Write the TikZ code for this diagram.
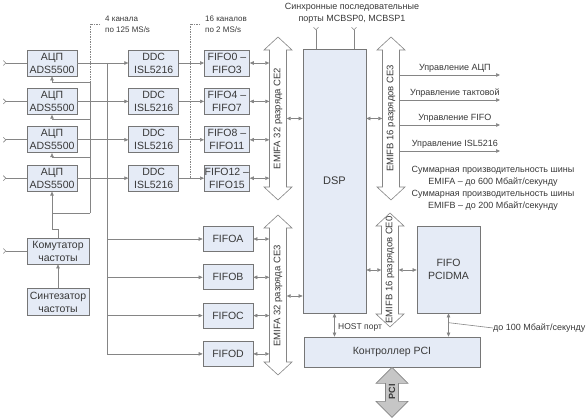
\documentclass[tikz,border=0pt]{standalone}
\usepackage{fontspec}
\setmainfont{Liberation Sans}
\usetikzlibrary{arrows.meta,positioning}

\definecolor{boxfill}{HTML}{E5EBF6}
\definecolor{boxline}{HTML}{767676}
\definecolor{wirecol}{HTML}{858585}
\definecolor{ink}{HTML}{383838}
\definecolor{pcifill}{HTML}{C6C6C6}

\tikzset{
  box/.style={draw=boxline, fill=boxfill, text=ink, align=center, inner sep=0pt,
    line width=0.7pt, font=\fontsize{10.5}{13}\selectfont},
  wire/.style={draw=wirecol, line width=0.6pt},
  arr/.style={wire, -{Triangle[length=4pt,width=3.5pt]}},
  darr/.style={wire, {Triangle[length=4pt,width=3.5pt]}-{Triangle[length=4pt,width=3.5pt]}},
  feed/.style={wire, {Straight Barb[reversed,length=2.5pt,width=5pt]}-},
  bracket/.style={draw=wirecol, line width=0.6pt, dash pattern=on 1.5pt off 1pt},
  bus/.style={draw=wirecol, fill=white, line width=0.6pt},
  pcibus/.style={draw=wirecol, fill=pcifill, line width=0.6pt},
  buslabel/.style={rotate=90, text=ink, inner sep=0pt, minimum height=17pt,
    font=\fontsize{9.5}{11}\selectfont},
  note/.style={text=ink, align=center, inner sep=0pt, font=\fontsize{9}{12}\selectfont},
  tag/.style={text=ink, align=left, inner sep=0pt, font=\fontsize{8}{11}\selectfont},
}

% bus outline: centre x, top tip y, bottom tip y
\newcommand{\busoutline}[3]{%
  \draw[bus] (#1,#2) -- ({#1+14},{#2+13}) -- ({#1+8.5},{#2+13}) -- ({#1+8.5},{#3-13})
    -- ({#1+14},{#3-13}) -- (#1,#3) -- ({#1-14},{#3-13}) -- ({#1-8.5},{#3-13})
    -- ({#1-8.5},{#2+13}) -- ({#1-14},{#2+13}) -- cycle;}

\begin{document}
\begin{tikzpicture}[x=1pt, y=-1pt]
  \useasboundingbox (0,0) rectangle (587,419);

  % converters
  \node[box, minimum width=50pt, minimum height=26pt] (adc1) at (52,63) {АЦП\\ADS5500};
  \node[box, minimum width=50pt, minimum height=26pt] (adc2) [below=11.7pt of adc1] {АЦП\\ADS5500};
  \node[box, minimum width=50pt, minimum height=26pt] (adc3) [below=11.7pt of adc2] {АЦП\\ADS5500};
  \node[box, minimum width=50pt, minimum height=26pt] (adc4) [below=11.7pt of adc3] {АЦП\\ADS5500};
  \node[box, minimum width=50pt, minimum height=26pt] (ddc1) [right=51pt of adc1] {DDC\\ISL5216};
  \node[box, minimum width=50pt, minimum height=26pt] (ddc2) [right=51pt of adc2] {DDC\\ISL5216};
  \node[box, minimum width=50pt, minimum height=26pt] (ddc3) [right=51pt of adc3] {DDC\\ISL5216};
  \node[box, minimum width=50pt, minimum height=26pt] (ddc4) [right=51pt of adc4] {DDC\\ISL5216};
  \node[box, minimum width=45pt, minimum height=26pt] (fifo0) [right=25pt of ddc1] {FIFO0 –\\FIFO3};
  \node[box, minimum width=45pt, minimum height=26pt] (fifo4) [right=25pt of ddc2] {FIFO4 –\\FIFO7};
  \node[box, minimum width=45pt, minimum height=26pt] (fifo8) [right=25pt of ddc3] {FIFO8 –\\FIFO11};
  \node[box, minimum width=45pt, minimum height=26pt] (fifo12) [right=25pt of ddc4] {FIFO12 –\\FIFO15};

  % clock
  \node[box, minimum width=62pt, minimum height=26pt] (kom) at (58,251) {Комутатор\\частоты};
  \node[box, minimum width=62pt, minimum height=27pt] (syn) [below=24pt of kom] {Синтезатор\\частоты};

  \node[box, minimum width=50pt, minimum height=25pt] (fifoA) at (228,239) {FIFOA};
  \node[box, minimum width=50pt, minimum height=25pt] (fifoB) [below=12.6pt of fifoA] {FIFOB};
  \node[box, minimum width=50pt, minimum height=25pt] (fifoC) [below=12.6pt of fifoB] {FIFOC};
  \node[box, minimum width=50pt, minimum height=25pt] (fifoD) [below=12.6pt of fifoC] {FIFOD};

  \node[box, minimum width=63pt, minimum height=264pt] (dsp) at (334.5,181) {\fontsize{11}{13}\selectfont DSP};
  \node[box, minimum width=63pt, minimum height=87pt] (pcidma) at (448.5,269.5) {FIFO\\PCIDMA};
  \node[box, minimum width=176pt, minimum height=30pt] (pcictl) at (392,352) {Контроллер PCI};

  % buses
  \busoutline{278}{37}{200}
  \busoutline{278}{215}{375}
  \busoutline{391}{37}{200}
  \busoutline{390}{213}{327}
  \node[buslabel] (emifa2) at (278,118.5) {EMIFA 32 разряда CE2};
  \node[buslabel] (emifa3) at (278,296) {EMIFA 32 разряда CE3};
  \node[buslabel] (emifb3) at (391,118.5) {EMIFB 16 разрядов CE3};
  \node[buslabel] (emifb0) at (390,270) {EMIFB 16 разрядов CE0};

  \draw[pcibus] (pcictl.south) -- ++(16,16) -- ++(-9.5,0) -- ++(0,18) -- ++(9.5,0)
    -- ++(-16,16) -- ++(-16,-16) -- ++(9.5,0) -- ++(0,-18) -- ++(-9.5,0) -- cycle;
  \node[rotate=90, text=ink, inner sep=0pt, font=\bfseries\fontsize{9}{10}\selectfont] (pci) at (392,392) {PCI};

  % inputs
  \coordinate (lft) at (3,0);
  \draw[feed] (adc1.west -| lft) -- (adc1.west);
  \draw[feed] (adc2.west -| lft) -- (adc2.west);
  \draw[feed] (adc3.west -| lft) -- (adc3.west);
  \draw[feed] (adc4.west -| lft) -- (adc4.west);
  \draw[feed] (kom.west -| lft) -- (kom.west);

  % clock distribution
  \coordinate (clk1) at (90,82);
  \coordinate (clk2) at (90,119);
  \coordinate (clk3) at (90,157);
  \coordinate (clkb) at (90,213);
  \draw[bracket] (100,24) -- (90,24) -- (clk1);
  \draw[wire, line width=0.9pt] (clk1) -- (clkb);
  \draw[arr] (clk1) -| (adc1.south);
  \draw[arr] (clk2) -| (adc2.south);
  \draw[arr] (clk3) -| (adc3.south);
  \draw[wire] (clkb) -- (clkb -| adc4.south);
  \draw[arr] (kom.north) -- ++(0,-8) -| (adc4.south);
  \draw[arr] (syn.north) -- (kom.south);

  % data paths
  \draw[arr] (adc1) -- (ddc1);
  \draw[arr] (adc2) -- (ddc2);
  \draw[arr] (adc3) -- (ddc3);
  \draw[arr] (adc4) -- (ddc4);
  \draw[bracket] (200,24) -- (190,24) -- (190,178);
  \draw[arr] (ddc1) -- (fifo0);
  \draw[arr] (ddc2) -- (fifo4);
  \draw[arr] (ddc3) -- (fifo8);
  \draw[arr] (ddc4) -- (fifo12);
  \node[tag, anchor=north west] (rate1) at (105,15.5) {4 канала\\по 125 MS/s};
  \node[tag, anchor=north west] (rate2) at (205,15.5) {16 каналов\\по 2 MS/s};

  \coordinate (tap) at (107,0);
  \draw[wire] (adc1.east -| tap) -- (fifoD.west -| tap);
  \draw[arr] (fifoA.west -| tap) -- (fifoA.west);
  \draw[arr] (fifoB.west -| tap) -- (fifoB.west);
  \draw[arr] (fifoC.west -| tap) -- (fifoC.west);
  \draw[arr] (fifoD.west -| tap) -- (fifoD.west);

  \draw[darr] (fifo0.east) -- (fifo0.east -| emifa2.north);
  \draw[darr] (fifo4.east) -- (fifo4.east -| emifa2.north);
  \draw[darr] (fifo8.east) -- (fifo8.east -| emifa2.north);
  \draw[darr] (fifo12.east) -- (fifo12.east -| emifa2.north);
  \draw[darr] (fifoA.east) -- (fifoA.east -| emifa3.north);
  \draw[darr] (fifoB.east) -- (fifoB.east -| emifa3.north);
  \draw[darr] (fifoC.east) -- (fifoC.east -| emifa3.north);
  \draw[darr] (fifoD.east) -- (fifoD.east -| emifa3.north);
  \draw[darr] (emifa2.south) -- (emifa2.south -| dsp.west);
  \draw[darr] (emifa3.south) -- (emifa3.south -| dsp.west);
  \draw[darr] (dsp.east |- emifb3) -- (emifb3.north);
  \draw[darr] (dsp.east |- emifb0) -- (emifb0.north);
  \draw[darr] (emifb0.south) -- (emifb0.south -| pcidma.west);

  % serial ports
  \node[note] (mcbsp) at (352,13) {Синхронные последовательные\\порты MCBSP0, MCBSP1};
  \coordinate (sp0) at (316,27);
  \coordinate (sp1) at (354,27);
  \draw[feed] (sp0) -- (sp0 |- dsp.north);
  \draw[feed] (sp1) -- (sp1 |- dsp.north);

  % control outputs
  \coordinate (ctl1) at (500,75);
  \coordinate (ctl2) at (500,100);
  \coordinate (ctl3) at (500,125);
  \coordinate (ctl4) at (500,151);
  \draw[arr] (ctl1 -| emifb3.south) -- (ctl1) node[note, pos=0.55, above=2pt] (ctlA) {Управление АЦП};
  \draw[arr] (ctl2 -| emifb3.south) -- (ctl2) node[note, pos=0.55, above=2pt] (ctlB) {Управление тактовой};
  \draw[arr] (ctl3 -| emifb3.south) -- (ctl3) node[note, pos=0.55, above=2pt] (ctlC) {Управление FIFO};
  \draw[arr] (ctl4 -| emifb3.south) -- (ctl4) node[note, pos=0.55, above=2pt] (ctlD) {Управление ISL5216};

  \node[note] (sumA) at (493,176) {Суммарная производительность шины\\EMIFA – до 600 Мбайт/секунду};
  \node[note] (sumB) at (493,200) {Суммарная производительность шины\\EMIFB – до 200 Мбайт/секунду};

  % host side
  \draw[darr] (dsp.south) -- (dsp.south |- pcictl.north);
  \node[tag, anchor=west, font=\fontsize{8.5}{10}\selectfont] (host) at (338,327) {HOST порт};
  \draw[darr] (pcidma.south) -- (pcidma.south |- pcictl.north);
  \path (pcidma.south) -- (pcidma.south |- pcictl.north) coordinate[pos=0.4] (mark);
  \node[note, anchor=west] (pcirate) at (493,328) {до 100 Мбайт/секунду};
  \draw[wire] (mark) -- (pcirate.west);
\end{tikzpicture}
\end{document}
